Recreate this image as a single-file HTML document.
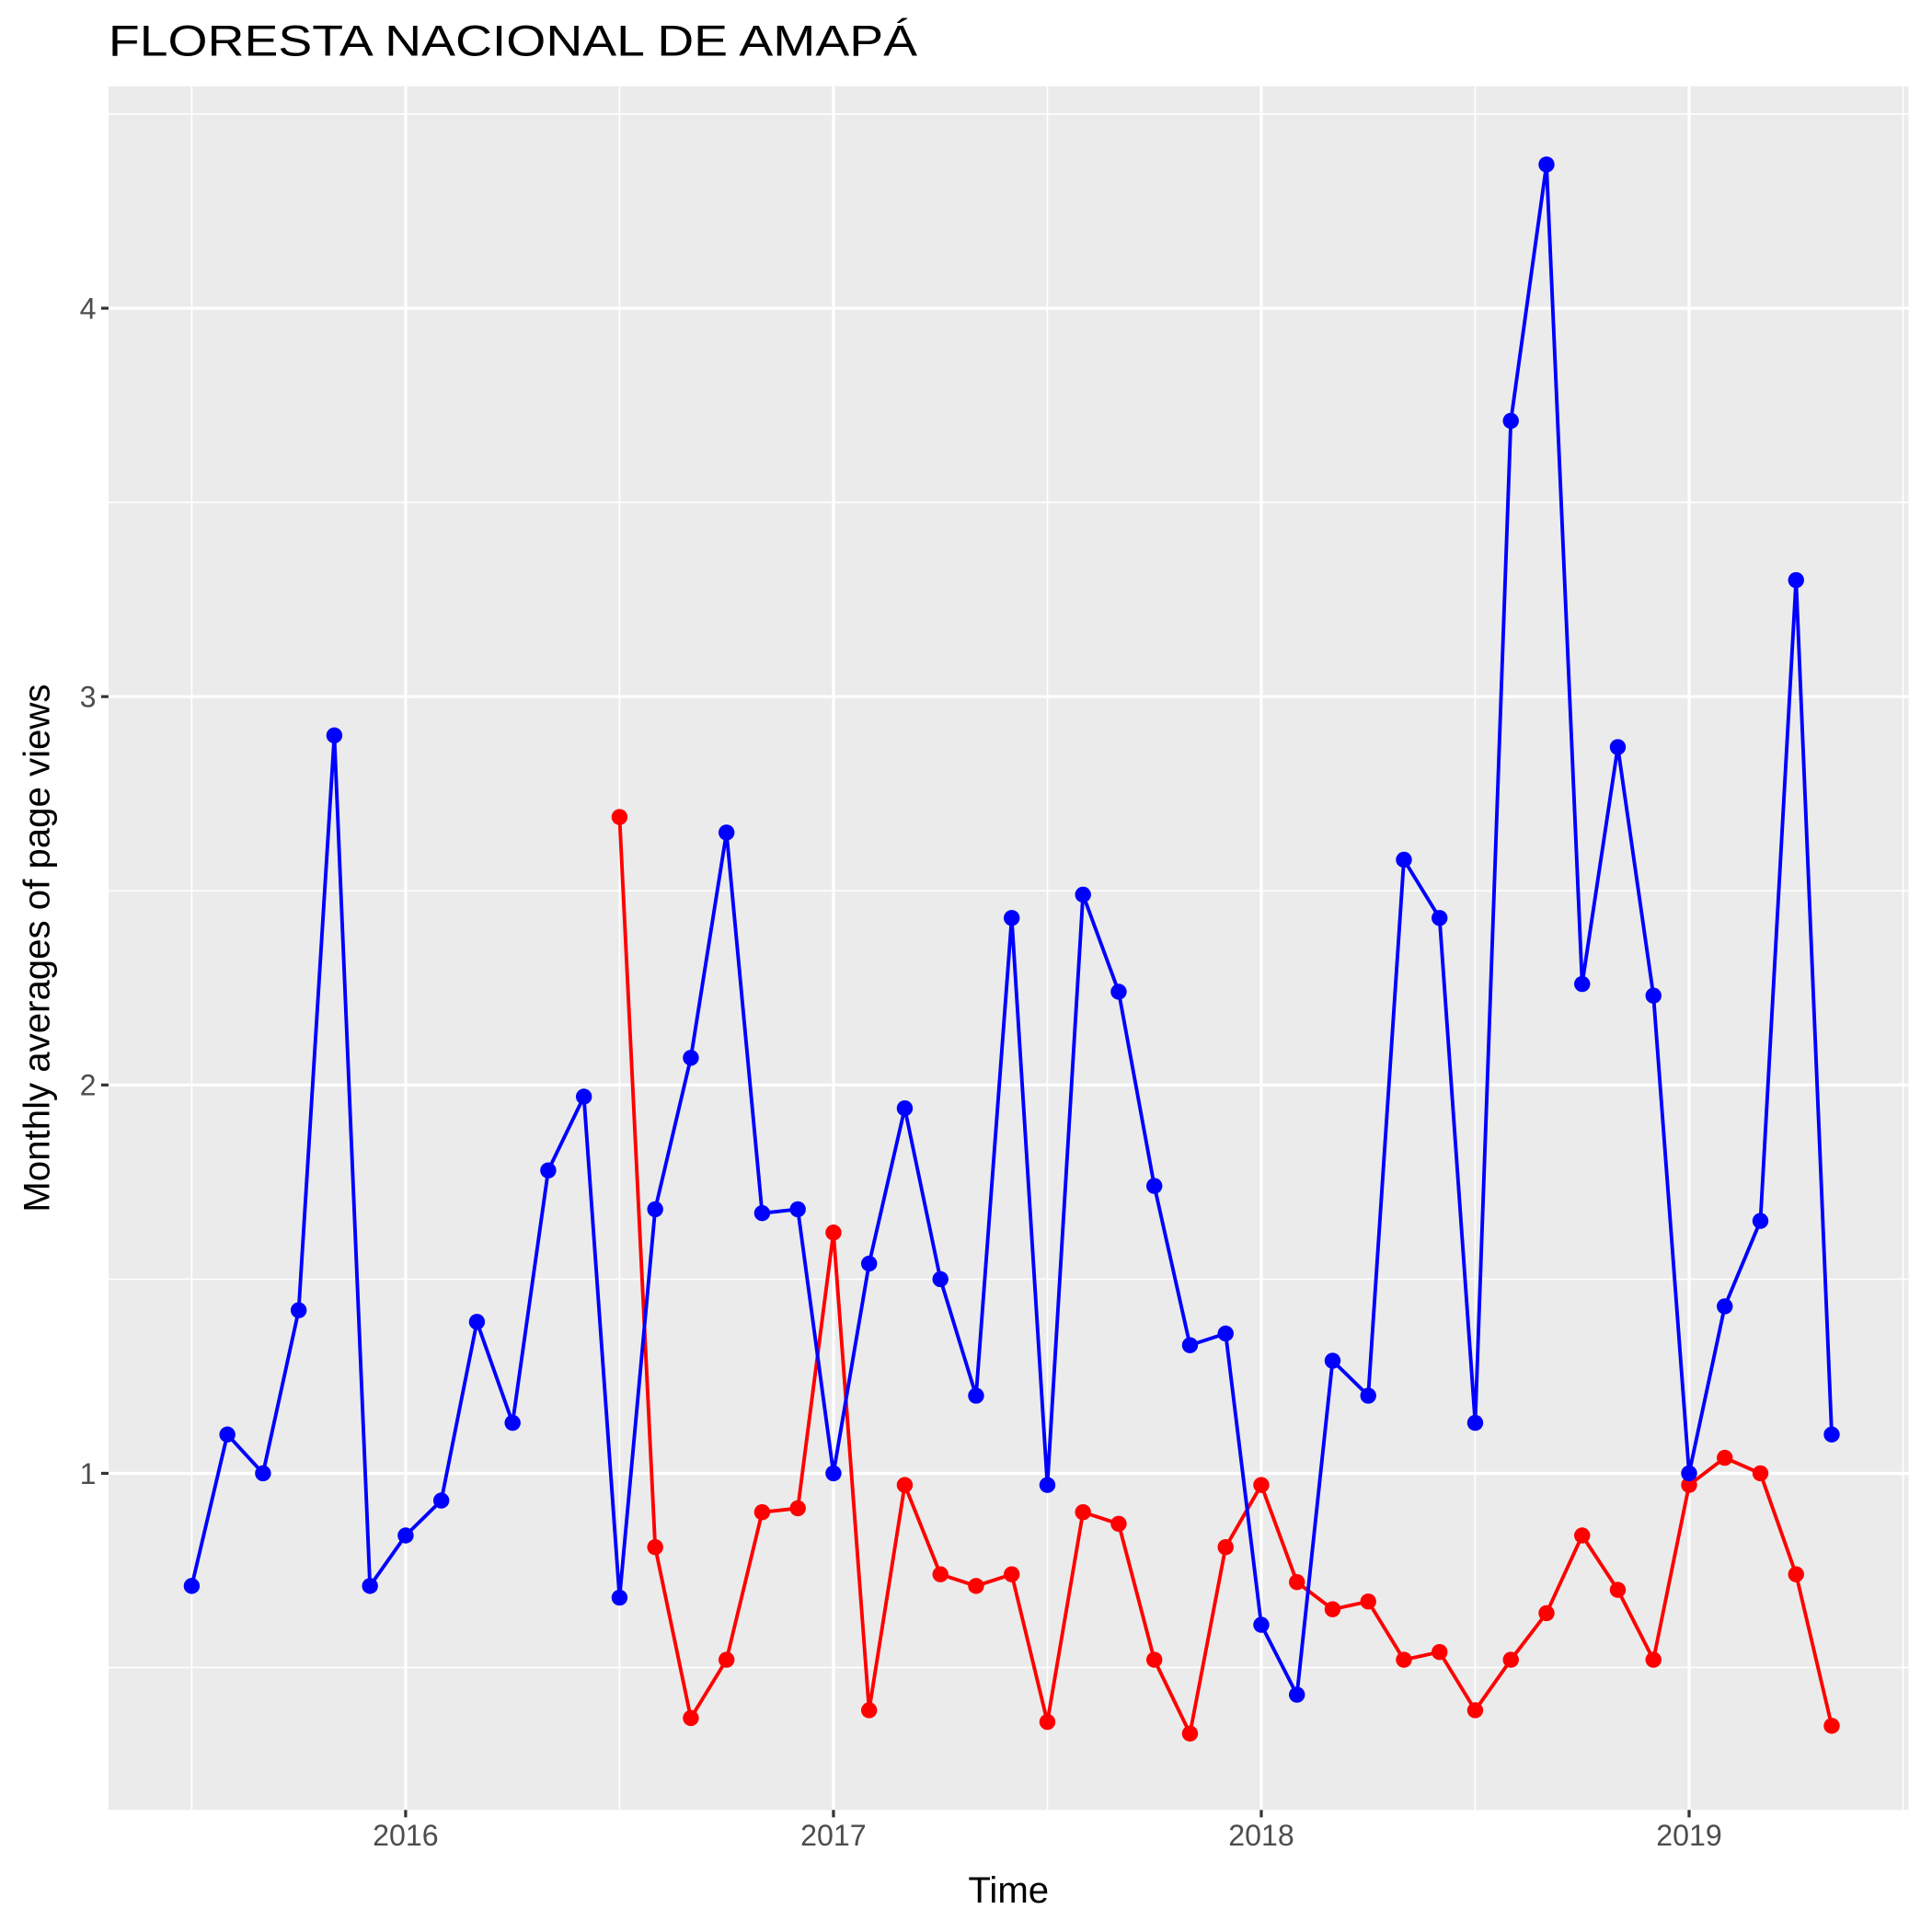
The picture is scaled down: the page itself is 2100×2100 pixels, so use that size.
<!DOCTYPE html>
<html><head><meta charset="utf-8"><style>html,body{margin:0;padding:0;background:#fff}svg{display:block}</style></head>
<body>
<svg id="chart" width="2100" height="2100" viewBox="0 0 1567 1567" xmlns="http://www.w3.org/2000/svg" font-family="Liberation Sans, Arial, sans-serif">
<rect width="1567" height="1567" fill="#fff"/>
<text x="88" y="45" font-size="35" fill="#000" textLength="656" lengthAdjust="spacingAndGlyphs">FLORESTA NACIONAL DE AMAPÁ</text>
<rect x="88" y="70" width="1460" height="1398" fill="#ebebeb"/>
<g id="grid"></g>
<g id="axes"></g>
<g id="series"></g>
<text x="818" y="1543" font-size="30" text-anchor="middle" fill="#000">Time</text>
<text transform="translate(40,769) rotate(-90)" font-size="30" text-anchor="middle" fill="#000">Monthly averages of page views</text>
</svg>
<script>
const blueValues = [0.71,1.10,1.00,1.42,2.90,0.71,0.84,0.93,1.39,1.13,1.78,1.97,0.68,1.68,2.07,2.65,1.67,1.68,1.00,1.54,1.94,1.50,1.20,2.43,0.97,2.49,2.24,1.74,1.33,1.36,0.61,0.43,1.29,1.20,2.58,2.43,1.13,3.71,4.37,2.26,2.87,2.23,1.00,1.43,1.65,3.30,1.10];
const blueStart = 2015.5; // July 2015
const redValues = [2.69,0.81,0.37,0.52,0.90,0.91,1.62,0.39,0.97,0.74,0.71,0.74,0.36,0.90,0.87,0.52,0.33,0.81,0.97,0.72,0.65,0.67,0.52,0.54,0.39,0.52,0.64,0.84,0.70,0.52,0.97,1.04,1.00,0.74,0.35];
const redStart = 2016.5; // July 2016
const xTicks = [2016,2017,2018,2019];
const yTicks = [1,2,3,4];

const NS='http://www.w3.org/2000/svg';
const L=88,R=1548,T=70,B=1468;
const xs = yr => 329 + (yr-2016)*347;
const ys = v => 1510 - v*315;
function mk(tag,attrs,parent){const e=document.createElementNS(NS,tag);for(const k in attrs)e.setAttribute(k,attrs[k]);parent.appendChild(e);return e;}
const grid=document.getElementById('grid'), axes=document.getElementById('axes'), series=document.getElementById('series');
for(let v=0.5; v<=4.5; v+=1){const y=ys(v);if(y<T||y>B)continue;
 const g=mk('line',{x1:L,x2:R,y1:y,y2:y,stroke:'#fff','stroke-width':1.2},grid);
 
 }
for(let yr=2015.5; yr<=2019.5; yr+=1){const x=xs(yr);
 const g=mk('line',{x1:x,x2:x,y1:T,y2:B,stroke:'#fff','stroke-width':1.2},grid);
 
 }
yTicks.forEach(v=>{const y=ys(v);
 const g=mk('line',{x1:L,x2:R,y1:y,y2:y,stroke:'#fff','stroke-width':2.4},grid);
 
 
 const t=mk('line',{x1:L-6,x2:L,y1:y,y2:y,stroke:'#333','stroke-width':2.4},axes);
 
 
 const lb=mk('text',{x:L-10,y:y+8.5,'font-size':24,'text-anchor':'end',fill:'#4d4d4d'},axes);
 lb.textContent=v;
 
 });
xTicks.forEach(v=>{const x=xs(v);
 const g=mk('line',{x1:x,x2:x,y1:T,y2:B,stroke:'#fff','stroke-width':2.4},grid);
 
 
 const t=mk('line',{x1:x,x2:x,y1:B,y2:B+6,stroke:'#333','stroke-width':2.4},axes);
 
 
 const lb=mk('text',{x:x,y:B+29,'font-size':24,'text-anchor':'middle',fill:'#4d4d4d'},axes);
 lb.textContent=v;
 
 });
function draw(vals,start,color,name){
 const pts=vals.map((v,i)=>[xs(start+i/12),ys(v)]);
 const pl=mk('polyline',{points:pts.map(p=>p.join(',')).join(' '),fill:'none',stroke:color,'stroke-width':2.9,'stroke-linejoin':'round'},series);
 
 
 pts.forEach(p=>{const c=mk('circle',{cx:p[0],cy:p[1],r:6.5,fill:color},series);
 
 });
}
draw(redValues,redStart,'#ff0000','red-series');
draw(blueValues,blueStart,'#0000ff','blue-series');
</script>
</body></html>
